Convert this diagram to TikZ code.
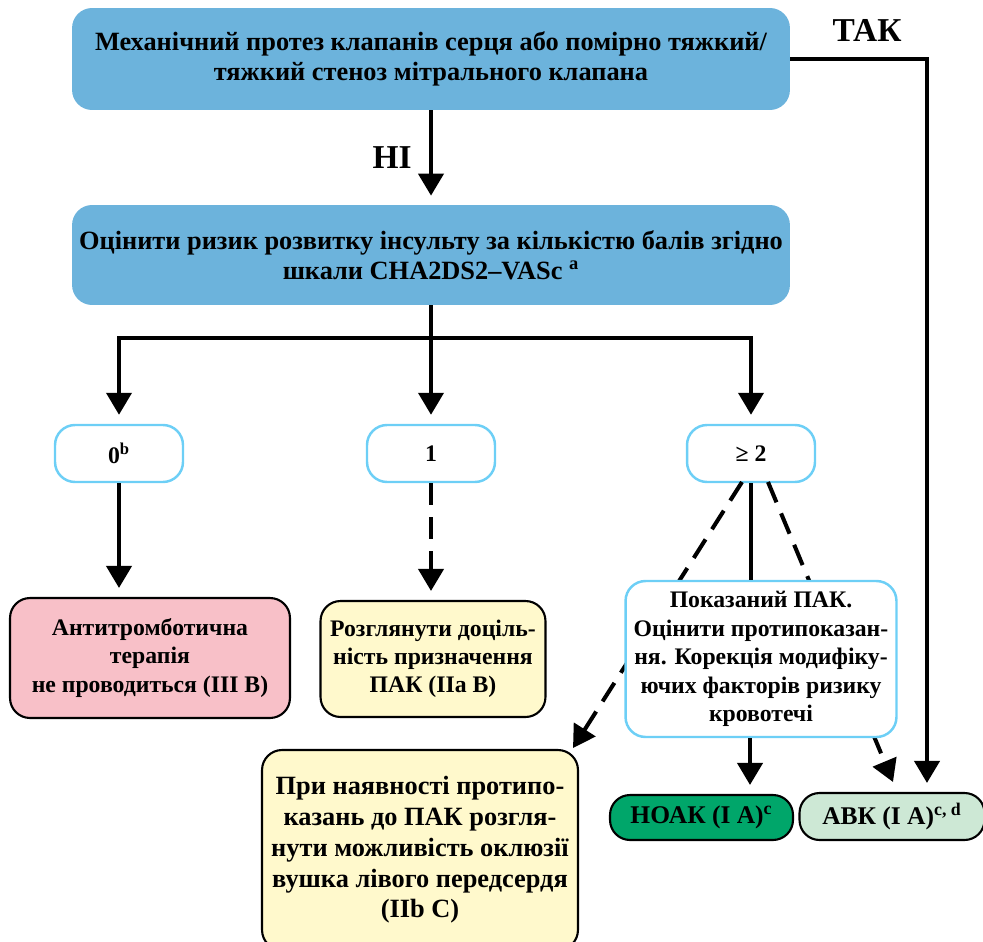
\documentclass[tikz,border=0pt]{standalone}
\usepackage{fontspec}
\setmainfont{Liberation Serif}
\usetikzlibrary{arrows.meta}
\definecolor{topblue}{RGB}{108,179,220}
\definecolor{edgeblue}{RGB}{109,207,246}
\definecolor{pinkfill}{RGB}{248,192,200}
\definecolor{yelfill}{RGB}{255,249,204}
\definecolor{greenfill}{RGB}{0,166,106}
\definecolor{lgreenfill}{RGB}{205,232,213}
\begin{document}
\begin{tikzpicture}[x=0.02cm,y=-0.02cm,
  font=\bfseries\fontsize{13.5}{16}\selectfont,
  basebox/.style={rectangle, rounded corners=0.4cm, align=center, inner sep=0pt},
  bluebox/.style={basebox, fill=topblue, font=\bfseries\fontsize{15}{17}\selectfont},
  scorebox/.style={basebox, draw=edgeblue, line width=1.4pt, fill=white, minimum width=2.56cm, minimum height=1.14cm},
  outbox/.style={basebox, draw=black, line width=1.2pt},
  arr/.style={line width=2.3pt, -{Triangle[width=0.5cm,length=0.44cm]}, shorten >=0.18cm},
  darr/.style={arr, dash pattern=on 0.44cm off 0.24cm},
  plain/.style={line width=2.3pt},
  biglabel/.style={font=\bfseries\fontsize{19}{22}\selectfont, inner sep=0pt}
]
\useasboundingbox (0,0) rectangle (983,942);
\clip (0,0) rectangle (983,942);

\node[bluebox, minimum width=14.36cm, minimum height=2.04cm] (top) at (431,59)
  {Механічний протез клапанів серця або помірно тяжкий/\\тяжкий стеноз мітрального клапана};
\node[bluebox, minimum width=14.36cm, minimum height=2cm] (risk) at (431,255)
  {Оцінити ризик розвитку інсульту за кількістю балів згідно\\шкали CHA2DS2–VASc \textsuperscript{a}};

\node[scorebox] (z0) at (119,453.5) {0\textsuperscript{b}};
\node[scorebox] (z1) at (431,453.5) {1};
\node[scorebox] (z2) at (751,453.5) {≥ 2};

\node[outbox, fill=pinkfill, minimum width=5.6cm, minimum height=2.4cm] (pink) at (150,658)
  {Антитромботична\\терапія\\не проводиться (III B)};
\node[outbox, fill=yelfill, minimum width=4.5cm, minimum height=2.32cm] (yel1) at (433,659)
  {Розглянути доціль-\\ність призначення\\ПАК (IIa B)};
\node[outbox, fill=yelfill, minimum width=6.32cm, minimum height=4.0cm, font=\bfseries\fontsize{15}{17.5}\selectfont] (yel2) at (420,850)
  {При наявності протипо-\\казань до ПАК розгля-\\нути можливість оклюзії\\вушка лівого передсердя\\(IIb C)};
\node[outbox, fill=greenfill, minimum width=3.66cm, minimum height=0.9cm, font=\bfseries\fontsize{14.5}{16}\selectfont] (noak) at (701.5,817.5)
  {НОАК (I A)\textsuperscript{c}};
\node[outbox, fill=lgreenfill, minimum width=3.7cm, minimum height=0.94cm, font=\bfseries\fontsize{14.5}{16}\selectfont] (avk) at (892,816.5)
  {АВК (I A)\textsuperscript{c, d}};

% dashed branches from >=2 (behind the central box)
\coordinate (dl) at (742,482);
\coordinate (dr) at (768,482);
\coordinate (dlend) at (573,748);
\coordinate (drend) at (893,782);
\draw[darr, shorten >=0pt] (dl) -- (dlend);
\draw[darr, shorten >=0pt] (dr) -- (drend);

\node[basebox, draw=edgeblue, line width=1.4pt, fill=white, minimum width=5.42cm, minimum height=3.12cm, font=\bfseries\fontsize{13.5}{16.3}\selectfont] (mid) at (761,659)
  {Показаний ПАК.\\Оцінити протипоказан-\\ня. Корекція модифіку-\\ючих факторів ризику\\кровотечі};

% main flow
\draw[arr] (top.south) -- (risk.north) node[biglabel, midway, left=0.35cm] {НІ};
\coordinate (bar) at (0,338);
\draw[plain] (risk.south) -- (risk.south |- bar);
\draw[arr] (risk.south |- bar) -- (z1.north);
\draw[arr] (risk.south |- bar) -| (z0.north);
\draw[arr] (risk.south |- bar) -| (z2.north);

\draw[arr] (z0.south) -- (z0.south |- pink.north);
\draw[darr] (z1.south) -- (z1.south |- yel1.north);
\draw[plain] (z2.south) -- (z2.south |- mid.north);
\coordinate (nk) at (750,0);
\draw[arr] (mid.south -| nk) -- (noak.north -| nk);

% TAK branch
\coordinate (tk) at (927,59);
\draw[arr] (top.east |- tk) -- (tk) -- (tk |- avk.north);
\node[biglabel] (tak) at (867,30) {ТАК};
\end{tikzpicture}
\end{document}
